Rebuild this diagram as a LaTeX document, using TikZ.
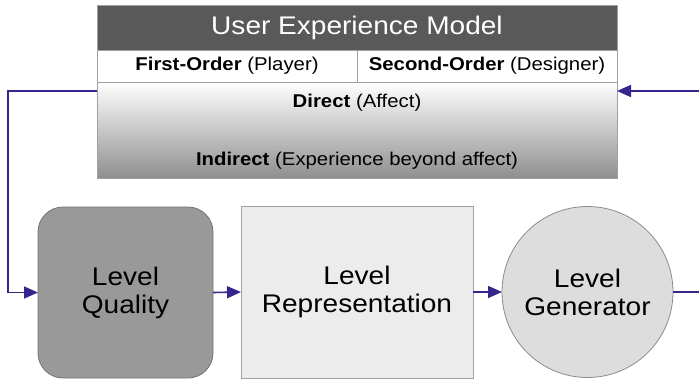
\documentclass[tikz,border=0pt]{standalone}
\usepackage{fontspec}
\setmainfont{Liberation Sans}[FakeStretch=1.1]
\usetikzlibrary{arrows.meta,shapes.geometric}
\definecolor{flowc}{RGB}{52,38,140}
\definecolor{band}{RGB}{89,89,89}
\definecolor{edge}{RGB}{160,160,160}
\begin{document}
\begin{tikzpicture}[x=1pt,y=-1pt,
   box/.style={draw=edge,line width=0.8pt,inner sep=0pt,outer sep=0pt},
   big/.style={font=\fontsize{25.5}{28}\selectfont,align=center},
   small/.style={font=\fontsize{18.5}{20}\selectfont},
   link/.style={draw=flowc,line width=1.6pt},
   flow/.style={link,-{Triangle[length=14pt,width=12pt]}}]
\useasboundingbox (0,0) rectangle (699,380);
% user experience model
\node[box,fill=band,minimum width=520pt,minimum height=45pt,
      text=white,font=\fontsize{25.5}{28}\selectfont] (title) at (357,27.5) {User Experience Model};
\node[box,fill=white,minimum width=260pt,minimum height=32pt,small] (first) at (227,66)
      {\textbf{First-Order} (Player)};
\node[box,fill=white,minimum width=260pt,minimum height=32pt,small] (second) at (487,66)
      {\textbf{Second-Order} (Designer)};
\node[box,minimum width=520pt,minimum height=96pt,
      top color=white,middle color=gray!30,bottom color=gray!88] (affect) at (357,130) {};
\node[small] (direct) at (357,103) {\textbf{Direct} (Affect)};
\node[small] (indirect) at (357,161) {\textbf{Indirect} (Experience beyond affect)};
% level pipeline
\node[box,draw=gray!110,fill=gray!80,rounded corners=25pt,
      minimum width=175pt,minimum height=171pt,big] (quality) at (125.5,292.5) {Level\\Quality};
\node[box,draw=edge,fill=gray!15,minimum width=232pt,minimum height=172pt,big] (repr) at (357,292)
      {Level\\Representation};
\node[box,circle,draw=gray!90,fill=gray!27,minimum size=171pt,big] (gen) at (587.5,292)
      {Level\\Generator};
% connectors
\coordinate (loopL) at (8,91);
\coordinate (loopR) at (699,91);
\coordinate (outR) at (699,292);
\draw[flow] (affect.north west |- loopL) -- (loopL) |- (quality.west);
\draw[flow] (quality.east) -- (repr.west);
\draw[flow] (repr.east) -- (gen.west);
\draw[link] (gen.east) -- (outR);
\draw[flow] (loopR) -- (affect.north east |- loopR);
\end{tikzpicture}
\end{document}
